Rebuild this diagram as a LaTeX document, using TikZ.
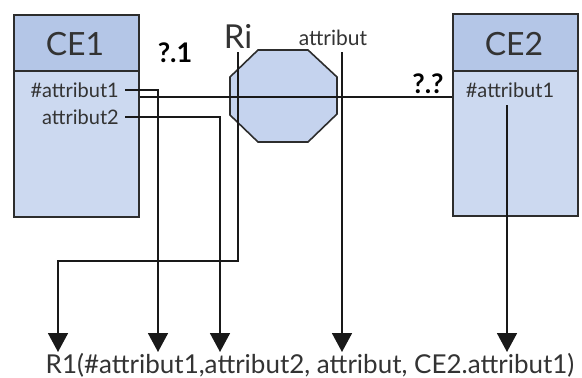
\documentclass[tikz,border=0pt]{standalone}
\usepackage{fontspec}
\setmainfont{Lato}
\usetikzlibrary{arrows.meta}
\definecolor{hdr}{RGB}{180,198,231}
\definecolor{bdy}{RGB}{204,217,240}
\definecolor{oct}{RGB}{197,211,238}
\definecolor{edge}{RGB}{45,45,45}
\begin{document}
\begin{tikzpicture}[x=1pt,y=-1pt,
  box/.style={draw=edge,line width=1.6pt,inner sep=0pt,anchor=north west},
  lbl/.style={inner sep=0pt,text=black!80},
  wire/.style={draw=black!90,line width=1.8pt},
  arr/.style={wire,-{Triangle[length=19pt,width=20pt]}},
  qmark/.style={inner sep=0pt,font=\bfseries\fontsize{27}{27}\selectfont}]
\useasboundingbox (0,0) rectangle (582,378);
% entity boxes
\node[box,fill=bdy,minimum width=125pt,minimum height=146pt] (ce1b) at (13,70) {};
\node[box,fill=hdr,minimum width=125pt,minimum height=56pt] (ce1h) at (13,14) {};
\node[box,fill=bdy,minimum width=125pt,minimum height=145pt] (ce2b) at (452,70) {};
\node[box,fill=hdr,minimum width=125pt,minimum height=57pt] (ce2h) at (452,13) {};
\node[lbl,font=\fontsize{32}{32}\selectfont] (ce1t) at (75,44) {CE1};
\node[lbl,font=\fontsize{32}{32}\selectfont] (ce2t) at (514,44) {CE2};
\node[lbl,anchor=east,font=\fontsize{20}{20}\selectfont] (a1) at (119,90) {\#attribut1};
\node[lbl,anchor=east,font=\fontsize{20}{20}\selectfont] (a2) at (119,117) {attribut2};
\node[lbl,font=\fontsize{20}{20}\selectfont] (b1) at (510,90) {\#attribut1};
% relationship octagon
\draw[draw=edge,line width=1.6pt,fill=oct]
  (258,50) -- (308,50) -- (337,77) -- (337,114) -- (308,142) -- (258,142) -- (230,115) -- (230,77) -- cycle;
\node[lbl,font=\fontsize{33}{33}\selectfont] (ri) at (238,36) {Ri};
\node[lbl,font=\fontsize{21}{21}\selectfont] (at) at (333,38) {attribut};
\node[qmark] (q1) at (175,53) {?.1};
\node[qmark] (q2) at (428,84) {?.?};
% result text
\node[lbl,anchor=base,font=\fontsize{26}{26}\selectfont] (r1) at (310,373) {R1(\#attribut1,attribut2, attribut, CE2.attribut1)};
\coordinate (t1) at (58,352);
\coordinate (t2) at (158,352);
\coordinate (t3) at (220,352);
\coordinate (t4) at (342,352);
\coordinate (t5) at (507,352);
\coordinate (lk) at (0,97);
\coordinate (ribend) at (238,261);
\coordinate (ris) at (238,52);
\coordinate (ats) at (342,52);
\coordinate (b1s) at (507,105);
% connectors
\draw[wire] (ce1b.east |- lk) -- (ce2b.west |- lk);
\draw[arr] ([xshift=6pt]a1.east) -| (t2);
\draw[arr] ([xshift=6pt]a2.east) -| (t3);
\draw[arr] (ris) -- (ribend) -| (t1);
\draw[arr] (ats) -- (t4);
\draw[arr] (b1s) -- (t5);
\end{tikzpicture}
\end{document}
